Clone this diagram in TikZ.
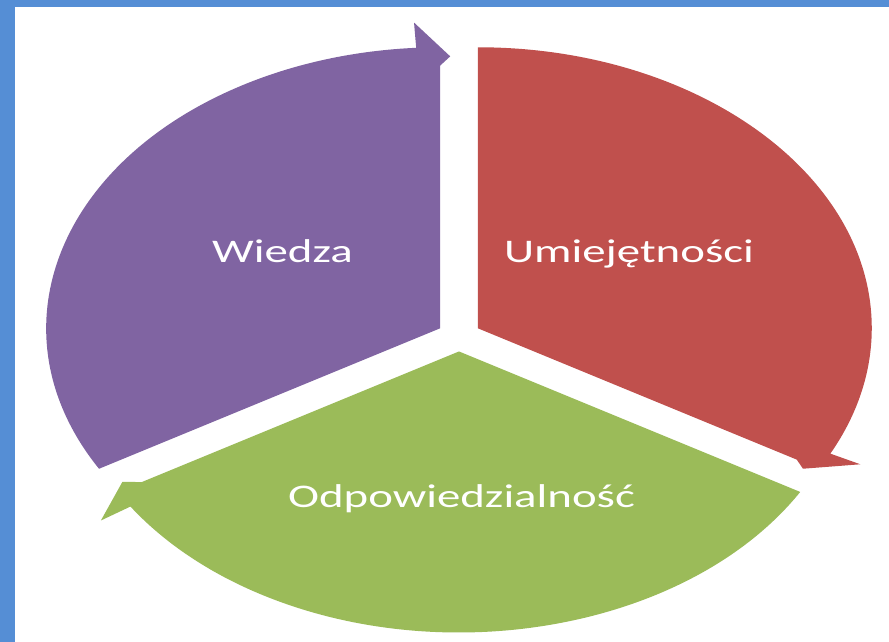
\documentclass[tikz,border=0pt]{standalone}
\usepackage{fontspec}
\setmainfont{Carlito}
\definecolor{cpurple}{HTML}{8064A2}
\definecolor{cred}{HTML}{C0504D}
\definecolor{cgreen}{HTML}{9BBB59}
\definecolor{cblue}{HTML}{558ED5}
\tikzset{
  lbl/.style={text=white, inner sep=0pt, anchor=base, font=\fontsize{33}{40}\selectfont},
}
\begin{document}
\begin{tikzpicture}[x=1pt,y=1pt]
\useasboundingbox (0,0) rectangle (889,642);
\fill[white] (0,0) rectangle (889,642);
\fill[cblue] (0,0) rectangle (15,642);
\fill[cblue] (0,635) rectangle (889,642);
\begin{scope}[shift={(459,306)}, xscale=394, yscale=281]
  \begin{scope}[shift={(150:0.055)}]
    \fill[cpurple] (0,0) -- (210:1) arc[start angle=210, end angle=93.5, radius=1]
      -- (93.5:1.09) -- (88.5:0.968) -- (90:0.935) -- cycle;
  \end{scope}
  \begin{scope}[shift={(30:0.055)}]
    \fill[cred] (0,0) -- (90:1) arc[start angle=90, end angle=-26.5, radius=1]
      -- (-26.5:1.085) -- (-31.2:0.965) -- (-30:0.935) -- cycle;
  \end{scope}
  \begin{scope}[shift={(270:0.055)}]
    \fill[cgreen] (0,0) -- (-30:1) arc[start angle=-30, end angle=-146.5, radius=1]
      -- (-146.5:1.09) -- (-151.5:0.972) -- (-150:0.93) -- cycle;
  \end{scope}
\end{scope}
\node[lbl] (wiedza) at (282.5,379) {\scalebox{1.42}[1]{Wiedza}};
\node[lbl] (umiej) at (629,379) {\scalebox{1.42}[1]{Umiejętności}};
\node[lbl] (odpow) at (461.5,134) {\scalebox{1.42}[1]{Odpowiedzialność}};
\end{tikzpicture}
\end{document}
